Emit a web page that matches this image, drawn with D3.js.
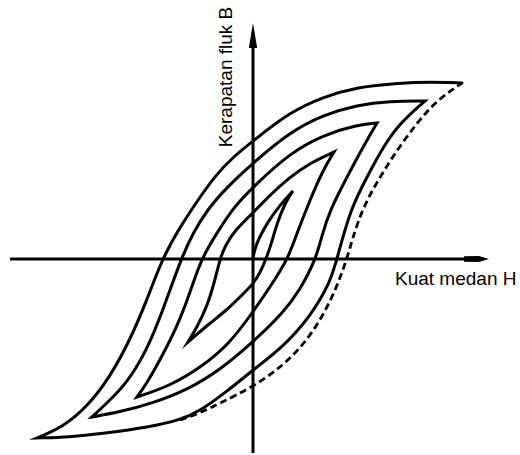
<!DOCTYPE html>
<html>
<head>
<meta charset="utf-8">
<script src="https://cdn.jsdelivr.net/npm/d3@7"></script>
<style>
  html, body { margin: 0; padding: 0; background: #ffffff; }
  svg { display: block; }
</style>
</head>
<body>
<script>
// Demagnetisation of a ferromagnet: a continuous B-H spiral of shrinking
// amplitude, from saturation down to the origin. Values are [H, B] pairs.

// Saturation tip -> negative tip (upper-left branch of the major loop)
const branch1 = [[104.5,88],[88.5,88.5],[73.5,88],[52,86],[35,81],[18.5,73.5],[0,59],[-10,51],[-19,41.5],
  [-26.5,31],[-36.5,16],[-45.5,0],[-53,-20.5],[-61.5,-40.5],[-71.5,-59],[-83,-74],[-95,-84],[-108,-89.5]];
// Negative tip -> second positive tip
const branch2 = [[-108,-89.5],[-91.5,-89],[-76.5,-87.5],[-51.5,-84],[-36.5,-80.5],[-26.5,-76],[-14,-67],
  [0,-55.5],[15,-44],[28.5,-29],[38.5,-12],[42,0],[48.5,24.5],[57,41],[65,56],[73.5,68],[86,79]];
const branch3 = [[86,79],[68.5,79],[52,77],[35,72],[18.5,63.5],[0,48],[-13,36],[-23,24.5],[-30,13],
  [-36,0],[-45,-25.5],[-53,-45.5],[-63,-62],[-73,-72],[-80.5,-79]];
const branch4 = [[-80.5,-79],[-66.5,-76.5],[-50,-72],[-33,-65.5],[-16.5,-55.5],[0,-41.5],[15,-27],
  [23.5,-15.5],[31.5,0],[34.5,12],[38.5,24.5],[47,41],[55,56],[62,68]];
const branch5 = [[62,68],[52,67],[35,62],[18.5,53],[0,36],[-10,25.5],[-18,13],[-26,0],[-31.5,-17],
  [-38,-34],[-46.5,-50.5],[-53,-62],[-58,-69]];
const branch6 = [[-58,-69],[-41.5,-63.5],[-25,-53.5],[-11.5,-42],[0,-26.5],[8.5,-14],[17.5,0],[22,13],
  [28.5,29.5],[35,44.5],[40.5,53.5]];
const branch7 = [[40.5,53.5],[28.5,48],[18.5,41],[8.5,32],[0,23],[-9,14.5],[-14,6.5],[-16.5,0],
  [-19,-10.5],[-23,-24],[-28,-34],[-32.5,-41.5]];
const branch8 = [[-32.5,-41.5],[-21.5,-32],[-13,-25.5],[-5,-17.5],[0,-12.5],[3.5,-7],[6.5,0],[9,7],
  [12,18],[16.5,29],[20,34]];
const branch9 = [[20,34],[13.5,27],[7,18],[2.5,9.5],[0.5,3.5],[0,0]];

// Rising branch of the full major loop (drawn dashed)
const majorRise = [[-36.5,-80.5],[-26.5,-77],[-16.5,-72],[0,-64],[17,-52],[30,-37],[40,-19],[47,0],
  [49.5,9.5],[55,26],[63.5,41],[72,54.5],[82,68],[92,79.5],[104.5,88]];

// Axis extents [min, max] and the labels
const hAxisExtent = [-121.5, 118];
const bAxisExtent = [-97, 118];
const hLabel = "Kuat medan H";
const bLabel = "Kerapatan fluk B";

const width = 520, height = 455;

const x = d3.scaleLinear().domain([-120, 120]).range([13, 493]);
const y = d3.scaleLinear().domain([-100, 120]).range([459, 19]);

const svg = d3.select("body").append("svg")
  .attr("width", width).attr("height", height)
  .attr("viewBox", `0 0 ${width} ${height}`);

// ---- axes ----
const axisG = svg.append("g");
axisG.append("line")
  .attr("x1", x(hAxisExtent[0])).attr("x2", x(hAxisExtent[1]) - 8)
  .attr("y1", y(0)).attr("y2", y(0))
  .attr("stroke", "#000").attr("stroke-width", 3);
axisG.append("line")
  .attr("x1", x(0)).attr("x2", x(0))
  .attr("y1", y(bAxisExtent[0])).attr("y2", y(bAxisExtent[1]) + 10)
  .attr("stroke", "#000").attr("stroke-width", 3);

// arrow heads
const hx = x(hAxisExtent[1]), hy = y(0);
axisG.append("path")
  .attr("d", `M${hx},${hy} L${hx - 10},${hy - 3} L${hx - 25},${hy - 2.8} L${hx - 25},${hy + 2.8} L${hx - 10},${hy + 3} Z`)
  .attr("fill", "#000");
const vx = x(0), vy = y(bAxisExtent[1]);
axisG.append("path")
  .attr("d", `M${vx},${vy} L${vx + 4.2},${vy + 25} L${vx - 4.2},${vy + 25} Z`)
  .attr("fill", "#000");

// ---- curves ----
const line = d3.line()
  .x(d => x(d[0]))
  .y(d => y(d[1]))
  .curve(d3.curveBasis);

// join the branches into one continuous path so the tips stay sharp
const spiral = [branch1, branch2, branch3, branch4, branch5, branch6, branch7, branch8, branch9];
let d = "";
spiral.forEach((b, i) => {
  const seg = line(b);
  d += i === 0 ? seg : seg.replace(/^M[-\d.,e]*/, "");
});

svg.append("path")
  .attr("d", d)
  .attr("fill", "none")
  .attr("stroke", "#000")
  .attr("stroke-width", 3)
  .attr("stroke-linejoin", "miter")
  .attr("stroke-miterlimit", 8)
  .attr("stroke-linecap", "round");

svg.append("path")
  .attr("d", line(majorRise))
  .attr("fill", "none")
  .attr("stroke", "#000")
  .attr("stroke-width", 2.8)
  .attr("stroke-dasharray", "7,4");

// ---- labels ----
const font = "'Liberation Sans', Arial, sans-serif";
svg.append("text")
  .attr("x", 395).attr("y", 284.5)
  .attr("font-family", font).attr("font-size", 19)
  .attr("fill", "#000")
  .text(hLabel);

svg.append("text")
  .attr("transform", "translate(231.5,77) rotate(-90)")
  .attr("text-anchor", "middle")
  .attr("font-family", font).attr("font-size", 19)
  .attr("fill", "#000")
  .text(bLabel);
</script>
</body>
</html>
